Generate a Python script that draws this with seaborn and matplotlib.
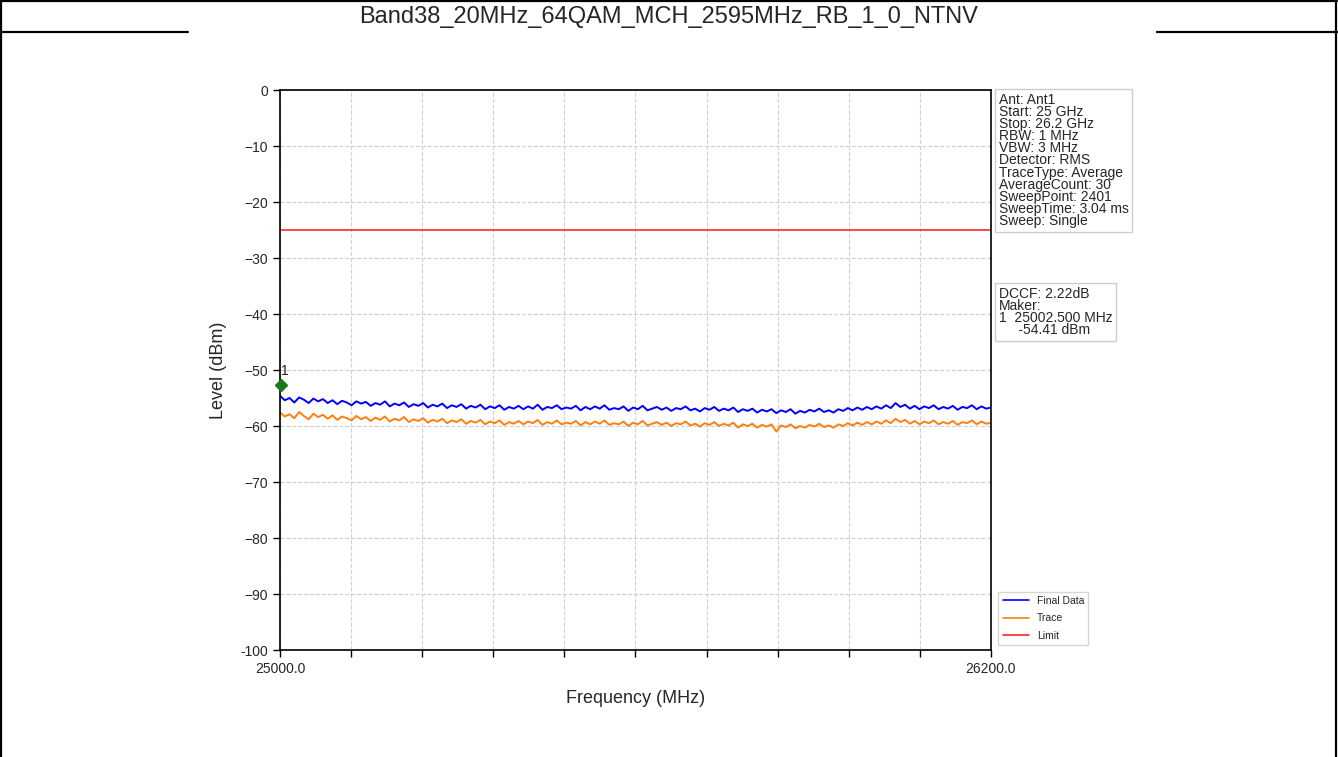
import numpy as np
import pandas as pd
import matplotlib
matplotlib.use("Agg")
import matplotlib.pyplot as plt
from matplotlib.lines import Line2D
import seaborn as sns

title = "Band38_20MHz_64QAM_MCH_2595MHz_RB_1_0_NTNV"
f_start, f_stop = 25000.0, 26200.0
limit_level = -25.0
marker_freq, marker_level = 25002.5, -52.6

final_data = [
-54.6,-55.4,-55.0,-55.8,-54.9,-55.3,-55.9,-55.1,-55.6,-55.2,
-55.9,-55.4,-56.1,-55.5,-55.8,-56.3,-55.6,-56.0,-55.7,-56.4,
-55.9,-56.2,-55.6,-56.5,-56.0,-56.3,-55.8,-56.6,-56.1,-56.4,
-55.9,-56.7,-56.2,-56.5,-56.0,-56.8,-56.3,-56.6,-56.1,-56.9,
-56.4,-56.7,-56.2,-57.0,-56.5,-56.8,-56.3,-57.1,-56.6,-56.9,
-56.4,-57.0,-56.5,-56.9,-56.2,-57.1,-56.6,-56.8,-56.3,-57.0,
-56.7,-56.9,-56.4,-57.2,-56.6,-57.0,-56.5,-56.9,-56.3,-57.1,
-56.8,-57.0,-56.5,-57.3,-56.7,-57.0,-56.4,-57.2,-56.9,-56.6,
-57.1,-56.7,-57.3,-56.8,-57.0,-56.5,-57.2,-56.9,-57.4,-56.8,
-57.1,-56.6,-57.3,-56.9,-57.2,-56.7,-57.5,-57.0,-57.3,-56.9,
-57.6,-57.1,-57.4,-57.0,-57.7,-57.2,-57.5,-57.0,-57.8,-57.3,
-57.6,-57.1,-57.4,-56.9,-57.5,-57.2,-57.6,-57.0,-57.3,-56.8,
-57.2,-56.7,-57.1,-56.6,-57.0,-56.5,-56.9,-56.3,-56.8,-55.9,
-56.6,-56.2,-56.9,-56.4,-57.0,-56.5,-56.8,-56.3,-57.0,-56.6,
-56.9,-56.4,-57.1,-56.6,-56.8,-56.3,-57.0,-56.5,-56.9,-56.7]

trace = [
-57.6,-58.3,-57.9,-58.6,-57.5,-58.2,-58.8,-57.8,-58.4,-58.0,
-58.7,-58.1,-58.9,-58.3,-58.6,-59.0,-58.2,-58.8,-58.4,-59.1,
-58.5,-58.9,-58.3,-59.2,-58.7,-59.0,-58.4,-59.3,-58.8,-59.1,
-58.6,-59.4,-58.9,-59.2,-58.7,-59.5,-59.0,-59.3,-58.8,-59.6,
-59.1,-59.4,-58.9,-59.7,-59.2,-59.5,-59.0,-59.8,-59.3,-59.6,
-59.1,-59.7,-59.2,-59.5,-58.9,-59.8,-59.3,-59.6,-59.0,-59.7,
-59.4,-59.6,-59.1,-59.9,-59.3,-59.7,-59.2,-59.6,-59.0,-59.8,
-59.5,-59.7,-59.2,-60.0,-59.4,-59.7,-59.1,-59.9,-59.6,-59.3,
-59.8,-59.4,-60.0,-59.5,-59.7,-59.2,-59.9,-59.6,-60.1,-59.5,
-59.8,-59.3,-60.0,-59.6,-59.9,-59.4,-60.3,-59.7,-60.0,-59.6,
-60.3,-59.8,-60.1,-59.7,-61.0,-59.9,-60.2,-59.7,-60.4,-60.0,
-60.3,-59.8,-60.1,-59.6,-60.2,-59.9,-60.3,-59.7,-60.0,-59.5,
-59.9,-59.4,-59.8,-59.3,-59.7,-59.2,-59.6,-59.0,-59.5,-58.7,
-59.3,-58.9,-59.6,-59.1,-59.7,-59.2,-59.5,-59.0,-59.7,-59.3,
-59.6,-59.1,-59.8,-59.3,-59.5,-59.0,-59.7,-59.2,-59.6,-59.4]

info_text = ("Ant: Ant1\nStart: 25 GHz\nStop: 26.2 GHz\nRBW: 1 MHz\nVBW: 3 MHz\n"
             "Detector: RMS\nTraceType: Average\nAverageCount: 30\nSweepPoint: 2401\n"
             "SweepTime: 3.04 ms\nSweep: Single")
marker_text = "DCCF: 2.22dB\nMaker:\n1  25002.500 MHz\n     -54.41 dBm"

sns.set_theme(style="white")
plt.rcParams['font.family'] = ['Liberation Sans', 'DejaVu Sans']

freqs = np.linspace(f_start, f_stop, len(final_data))
df = pd.concat([
    pd.DataFrame({"Frequency": freqs, "Level": trace, "Series": "Trace"}),
    pd.DataFrame({"Frequency": freqs, "Level": final_data, "Series": "Final Data"}),
])

fig = plt.figure(figsize=(13.38, 7.57), dpi=100)
ax = fig.add_axes([280/1338, 1-650/757, (991-280)/1338, (650-90)/757])

sns.lineplot(data=df, x="Frequency", y="Level", hue="Series",
             palette={"Final Data": "#0000ff", "Trace": "#ff7f0e"},
             linewidth=1.4, ax=ax, legend=False, estimator=None, sort=False)
ax.axhline(limit_level, color="#ff2a2a", lw=1.2)
ax.plot([marker_freq], [marker_level], marker="D", color="#1a7a1a", ms=6, clip_on=False, zorder=5)
ax.text(marker_freq, marker_level + 1.2, "1", fontsize=10, ha="left", va="bottom", color="#222222")

ax.set_xlim(f_start, f_stop)
ax.set_ylim(-100, 0)
xt = np.arange(f_start, f_stop + 1, 120.0)
ax.set_xticks(xt)
ax.set_xticklabels(["25000.0"] + [""] * (len(xt) - 2) + ["26200.0"], fontsize=10)
ax.set_yticks(np.arange(-100, 1, 10))
ax.set_yticklabels([f"{v}" if v == 0 else f"\u2212{abs(v)}" if v != -100 else "-100" for v in np.arange(-100, 1, 10)], fontsize=10)
ax.tick_params(axis="both", direction="out", length=5, width=1, color="black", bottom=True, left=True)
ax.grid(True, color="#d0d0d0", linestyle="--", linewidth=0.8)
for s in ax.spines.values():
    s.set_color("black")
    s.set_linewidth(1.2)
ax.set_xlabel("Frequency (MHz)", fontsize=13, labelpad=10)
ax.set_ylabel("Level (dBm)", fontsize=13, labelpad=10)

box = dict(boxstyle="square,pad=0.25", facecolor="white", edgecolor="#cccccc", lw=1)
ax.text(1.011, 0.995, info_text, transform=ax.transAxes, fontsize=10, va="top", ha="left",
        linespacing=0.83, bbox=box)
ax.text(1.011, 0.903 - (284 - 90) / 560 + 0.092, marker_text, transform=ax.transAxes, fontsize=10,
        va="top", ha="left", linespacing=0.83, bbox=box)

handles = [Line2D([], [], color="#0000ff", lw=1.2), Line2D([], [], color="#ff7f0e", lw=1.2),
           Line2D([], [], color="#ff2a2a", lw=1.2)]
ax.legend(handles, ["Final Data", "Trace", "Limit"], loc="lower left", bbox_to_anchor=(1.003, 0.0),
          fontsize=7.5, frameon=True, edgecolor="#cccccc", fancybox=False, handlelength=2.5,
          labelspacing=0.7)

fig.text(0.5, 1-17/757, title, ha="center", va="center", fontsize=17)
lw = 1.6
fig.add_artist(Line2D([0.001, 0.999], [0.999, 0.999], transform=fig.transFigure, color="black", lw=lw))
fig.add_artist(Line2D([0.001, 0.001], [0, 1], transform=fig.transFigure, color="black", lw=lw))
fig.add_artist(Line2D([0.9985, 0.9985], [0, 1], transform=fig.transFigure, color="black", lw=lw))
fig.add_artist(Line2D([0, 188/1338], [1-32/757, 1-32/757], transform=fig.transFigure, color="black", lw=lw))
fig.add_artist(Line2D([1157/1338, 1], [1-32/757, 1-32/757], transform=fig.transFigure, color="black", lw=lw))

fig.savefig("out.png", dpi=100)
